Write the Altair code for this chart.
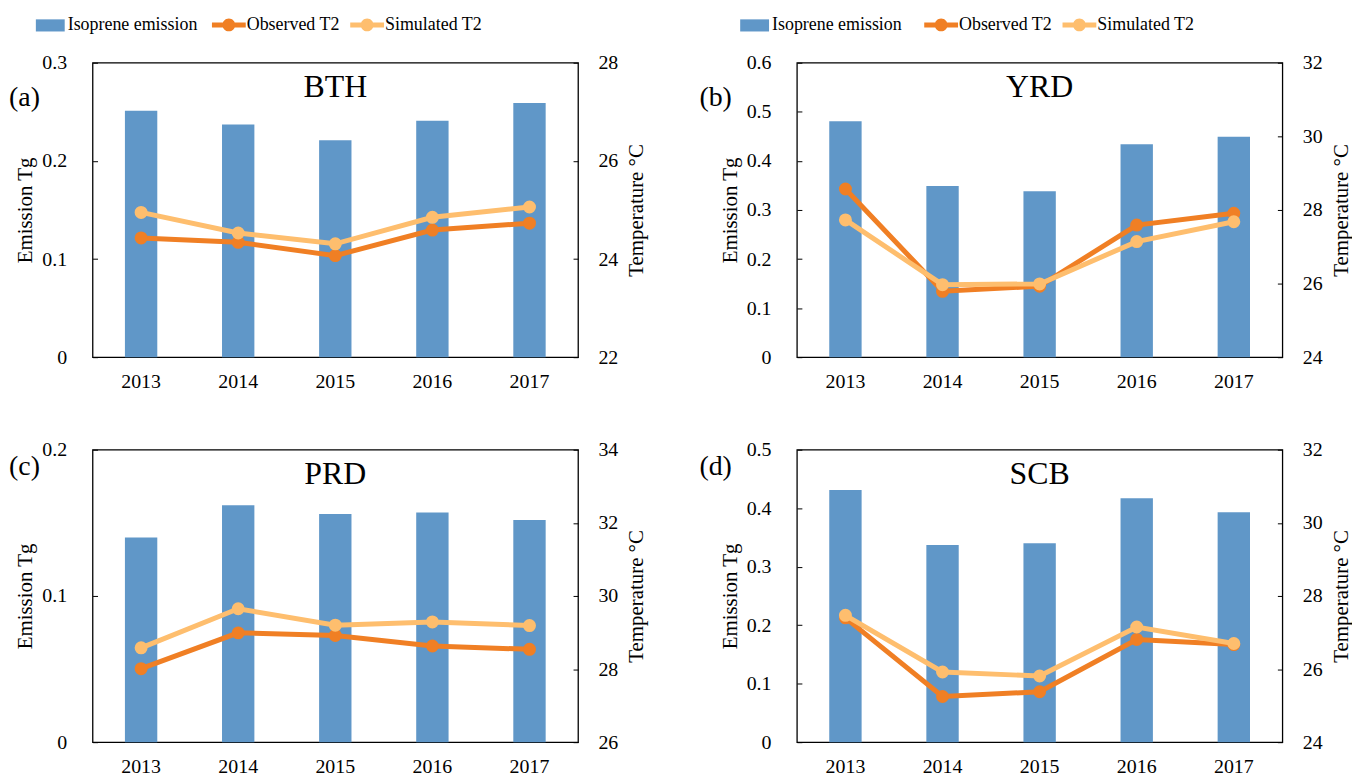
import altair as alt
import pandas as pd

# ---------------- data ----------------
years = ["2013", "2014", "2015", "2016", "2017"]
region_names = ["BTH", "YRD", "PRD", "SCB"]
panel_tags = ["(a)", "(b)", "(c)", "(d)"]
series_names = ["Isoprene emission", "Observed T2", "Simulated T2"]

emission_bth = [0.251, 0.237, 0.221, 0.241, 0.259]
emission_yrd = [0.481, 0.349, 0.338, 0.434, 0.449]
emission_prd = [0.140, 0.162, 0.156, 0.157, 0.152]
emission_scb = [0.431, 0.337, 0.340, 0.417, 0.393]

obs_t2_bth = [24.43, 24.34, 24.07, 24.59, 24.73]
sim_t2_bth = [24.95, 24.53, 24.31, 24.85, 25.06]
obs_t2_yrd = [28.57, 25.79, 25.93, 27.59, 27.91]
sim_t2_yrd = [27.73, 25.97, 25.99, 27.14, 27.68]
obs_t2_prd = [28.01, 28.99, 28.92, 28.63, 28.54]
sim_t2_prd = [28.58, 29.65, 29.20, 29.29, 29.19]
obs_t2_scb = [27.40, 25.25, 25.38, 26.81, 26.67]
sim_t2_scb = [27.47, 25.92, 25.81, 27.15, 26.70]

emission_ticks_bth = [0, 0.1, 0.2, 0.3]
emission_ticks_yrd = [0, 0.1, 0.2, 0.3, 0.4, 0.5, 0.6]
emission_ticks_prd = [0, 0.1, 0.2]
emission_ticks_scb = [0, 0.1, 0.2, 0.3, 0.4, 0.5]
temp_ticks_bth = [22, 24, 26, 28]
temp_ticks_yrd = [24, 26, 28, 30, 32]
temp_ticks_prd = [26, 28, 30, 32, 34]
temp_ticks_scb = [24, 26, 28, 30, 32]

# ---------------- style ----------------
FONT = "Liberation Serif"
BLUE = "#6097C8"
ORANGE = "#F07F24"
LIGHT = "#FEBE6E"
SERIES_COLORS = {series_names[1]: ORANGE, series_names[2]: LIGHT}
RECT_PATH = "M-1,-0.42L1,-0.42L1,0.42L-1,0.42Z"
LINE_PATH = ("M-1.214,-0.18L1.214,-0.18L1.214,0.18L-1.214,0.18Z "
             "M-0.46,0A0.46,0.46,0,1,1,0.46,0A0.46,0.46,0,1,1,-0.46,0Z")
W = 488


def panel(idx, emis, obs, sim, eticks, tticks, h, tag_x, tag_y, show_legend, line_leg_x):
    bar_df = pd.DataFrame({"Year": years, "Emission": emis,
                           "Series": [series_names[0]] * len(years)})
    line_df = pd.DataFrame({"Year": years * 2, "Temperature": obs + sim,
                            "Series": [series_names[1]] * len(years) + [series_names[2]] * len(years)})

    x = alt.X("Year:N", title=None, sort=years,
              scale=alt.Scale(paddingInner=2 / 3, paddingOuter=1 / 3),
              axis=alt.Axis(labelAngle=0, tickSize=0, domain=False, labelPadding=14))

    if show_legend:
        bar_leg = alt.Legend(title=None, orient="none", legendX=-57, legendY=-52,
                             direction="horizontal", symbolType=RECT_PATH, symbolSize=841,
                             symbolStrokeWidth=0, labelOffset=3, padding=0,
                             labelFont=FONT, labelFontSize=18, labelColor="black")
        line_leg = alt.Legend(title=None, orient="none", legendX=line_leg_x + 3, legendY=-52,
                              direction="horizontal", symbolType=LINE_PATH, symbolSize=784,
                              symbolStrokeWidth=0, labelOffset=4, columnPadding=10, padding=0,
                              labelFont=FONT, labelFontSize=18, labelColor="black")
    else:
        bar_leg = None
        line_leg = None

    bars = alt.Chart(bar_df).mark_bar().encode(
        x=x,
        y=alt.Y("Emission:Q", title="Emission Tg",
                scale=alt.Scale(domain=[eticks[0], eticks[-1]], nice=False),
                axis=alt.Axis(orient="left", values=eticks, format=".1~f", offset=-5,
                              tickSize=5, domain=False, grid=False, labelPadding=26,
                              titlePadding=6)),
        fill=alt.Fill("Series:N", scale=alt.Scale(domain=[series_names[0]], range=[BLUE]),
                      legend=bar_leg),
    )

    ty = alt.Y("Temperature:Q", title="Temperature °C",
               scale=alt.Scale(domain=[tticks[0], tticks[-1]], nice=False, zero=False),
               axis=alt.Axis(orient="right", values=tticks, format="d", offset=-5,
                             tickSize=5, domain=False, grid=False, labelPadding=20,
                             titlePadding=8, titleAngle=270, titleBaseline="top"))
    cscale = alt.Scale(domain=series_names[1:], range=[ORANGE, LIGHT])

    temp_layers = []
    for s in series_names[1:]:
        base = alt.Chart(line_df).transform_filter(alt.datum.Series == s)
        temp_layers.append(base.mark_line(strokeWidth=5, color=SERIES_COLORS[s]).encode(
            x=x, y=ty))
        temp_layers.append(base.mark_circle(size=170, opacity=1).encode(
            x=x, y=ty, color=alt.Color("Series:N", scale=cscale, legend=line_leg)))

    ttl = alt.Chart(pd.DataFrame({"label": [region_names[idx]]})).mark_text(
        font=FONT, fontSize=32, align="center", baseline="middle", color="black"
    ).encode(text="label:N", x=alt.value(W / 2), y=alt.value(24))
    tag = alt.Chart(pd.DataFrame({"label": [panel_tags[idx]]})).mark_text(
        font=FONT, fontSize=28, align="left", baseline="middle", color="black"
    ).encode(text="label:N", x=alt.value(tag_x), y=alt.value(tag_y))

    return alt.layer(bars, alt.layer(*temp_layers), ttl, tag).resolve_scale(
        y="independent").properties(width=W, height=h)


pa = panel(0, emission_bth, obs_t2_bth, sim_t2_bth, emission_ticks_bth, temp_ticks_bth,
           296, -84, 35, True, 120)
pb = panel(1, emission_yrd, obs_t2_yrd, sim_t2_yrd, emission_ticks_yrd, temp_ticks_yrd,
           296, -98, 35, True, 128)
pc = panel(2, emission_prd, obs_t2_prd, sim_t2_prd, emission_ticks_prd, temp_ticks_prd,
           294, -84, 17, False, 0)
pd_ = panel(3, emission_scb, obs_t2_scb, sim_t2_scb, emission_ticks_scb, temp_ticks_scb,
            294, -98, 17, False, 0)

res = dict(color="independent", fill="independent")
row1 = alt.hconcat(pa, pb, spacing=51).resolve_scale(**res)
row2 = alt.hconcat(pc, pd_, spacing=51).resolve_scale(**res)
chart = alt.vconcat(row1, row2, spacing=47).resolve_scale(**res).properties(
    padding={"left": 0, "top": 0, "right": 0, "bottom": 0}, background="white")

chart = chart.configure_view(stroke="black", strokeWidth=1.3).configure_axis(
    labelFont=FONT, titleFont=FONT, labelFontSize=20, titleFontSize=21,
    titleFontWeight="normal", labelColor="black", titleColor="black",
    tickColor="black", tickWidth=1
)

chart.save("out.html", embed_options={"renderer": "svg", "actions": False})
